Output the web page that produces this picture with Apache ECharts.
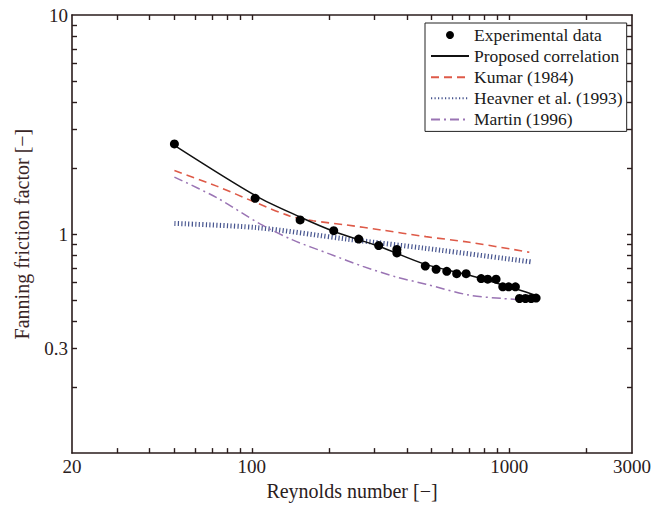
<!DOCTYPE html>
<html>
<head>
<meta charset="utf-8">
<script src="https://cdn.jsdelivr.net/npm/echarts@6/dist/echarts.min.js"></script>
<style>
html,body{margin:0;padding:0;background:#fff;}
#chart{width:654px;height:506px;}
</style>
</head>
<body>
<div id="chart"></div>
<script>
// ---- data ----
var expRe = [50, 103, 154, 208, 260, 311, 366, 366, 472, 520, 572, 625, 680, 778, 825, 889, 944, 995, 1057, 1096, 1156, 1217, 1272];
var expF  = [2.58, 1.455, 1.16, 1.036, 0.949, 0.886, 0.85, 0.82, 0.714, 0.69, 0.676, 0.659, 0.659, 0.626, 0.622, 0.622, 0.574, 0.574, 0.574, 0.508, 0.508, 0.508, 0.51];

var corrRe = [50, 104, 153, 210, 313, 472, 701, 1096, 1287];
var corrF  = [2.54, 1.49, 1.20, 1.025, 0.877, 0.727, 0.648, 0.555, 0.522];

var kumarRe = [50, 73, 104, 140, 173, 233, 313, 475, 701, 1197];
var kumarF  = [1.95, 1.655, 1.39, 1.21, 1.15, 1.10, 1.047, 0.973, 0.917, 0.826];

var heavRe = [50, 104, 233, 475, 1230];
var heavF  = [1.118, 1.07, 0.949, 0.86, 0.745];

var martinRe = [50, 73, 108, 144, 200, 270, 364, 475, 701, 944, 1253];
var martinF  = [1.82, 1.466, 1.11, 0.94, 0.812, 0.712, 0.637, 0.590, 0.526, 0.508, 0.496];

var xTicks = [30, 40, 50, 60, 70, 80, 90, 100, 200, 300, 400, 500, 600, 700, 800, 900, 1000, 2000];
var xLabels = [20, 100, 1000, 3000];
var yTicks = [0.2, 0.3, 0.4, 0.5, 0.6, 0.7, 0.8, 0.9, 1, 2, 3, 4, 5, 6, 7, 8, 9];
var yLabels = [0.3, 1, 10];

var seriesNames = ['Experimental data', 'Proposed correlation', 'Kumar (1984)', 'Heavner et al. (1993)', 'Martin (1996)'];

function pairs(a, b) { return a.map(function (v, i) { return [v, b[i]]; }); }
function fmt(v) { return String(+(+v).toPrecision(6)); }

var axisColor = '#2a1c1c';
var font = 'Liberation Serif';

function xAxisDef(pos, showLabel) {
  return {
    type: 'log', logBase: 10, min: 20, max: 3000, position: pos,
    name: showLabel ? 'Reynolds number [\u2212]' : '',
    nameLocation: 'middle', nameGap: 26,
    nameTextStyle: { fontFamily: font, fontSize: 20, color: '#2a2020' },
    axisLine: { show: true, onZero: false, lineStyle: { color: axisColor, width: 1.6 } },
    axisTick: { show: true, inside: true, length: 5, customValues: xTicks, lineStyle: { color: axisColor, width: 1.4 } },
    axisLabel: { show: showLabel, customValues: xLabels, formatter: fmt, margin: 4, fontFamily: font, fontSize: 19, color: '#2a2020' },
    splitLine: { show: false }, minorTick: { show: false }
  };
}
function yAxisDef(pos, showLabel) {
  return {
    type: 'log', logBase: 10, min: 0.1, max: 10, position: pos,
    name: showLabel ? 'Fanning friction factor [\u2212]' : '',
    nameLocation: 'middle', nameGap: 40, nameRotate: 90,
    nameTextStyle: { fontFamily: font, fontSize: 20, color: '#3a2626' },
    axisLine: { show: true, onZero: false, lineStyle: { color: axisColor, width: 1.6 } },
    axisTick: { show: true, inside: true, length: 5, customValues: yTicks, lineStyle: { color: axisColor, width: 1.4 } },
    axisLabel: { show: showLabel, customValues: yLabels, formatter: fmt, margin: 4, fontFamily: font, fontSize: 19, color: '#2a2020' },
    splitLine: { show: false }, minorTick: { show: false }
  };
}

var hideSym = { opacity: 0, borderWidth: 0 };

var chart = echarts.init(document.getElementById('chart'), null, { renderer: 'svg' });
chart.setOption({
  animation: false,
  backgroundColor: '#fff',
  grid: { left: 72, top: 15, right: 21, bottom: 49, containLabel: false },
  xAxis: [xAxisDef('bottom', true), xAxisDef('top', false)],
  yAxis: [yAxisDef('left', true), yAxisDef('right', false)],
  legend: {
    orient: 'vertical', left: 425, top: 23,
    data: [
      { name: seriesNames[0] },
      { name: seriesNames[1], itemStyle: hideSym },
      { name: seriesNames[2], itemStyle: hideSym },
      { name: seriesNames[3], itemStyle: hideSym },
      { name: seriesNames[4], itemStyle: hideSym }
    ],
    itemWidth: 38, itemHeight: 8, itemGap: 3.1,
    padding: [3, 4, 3, 5],
    borderColor: '#222', borderWidth: 1, backgroundColor: '#fff',
    textStyle: { fontFamily: font, fontSize: 17.5, color: '#1a1a1a' }
  },
  series: [
    { name: seriesNames[0], type: 'scatter', data: pairs(expRe, expF), symbol: 'circle', symbolSize: 9,
      itemStyle: { color: '#000', opacity: 1 }, z: 5 },
    { name: seriesNames[1], type: 'line', data: pairs(corrRe, corrF), symbol: 'none', smooth: 0.3,
      lineStyle: { color: '#111', width: 1.5, type: 'solid' }, itemStyle: { color: '#111' }, z: 4 },
    { name: seriesNames[2], type: 'line', data: pairs(kumarRe, kumarF), symbol: 'none', smooth: 0.3,
      lineStyle: { color: '#de5a48', width: 1.6, type: [8, 5] }, itemStyle: { color: '#de5a48' } },
    { name: seriesNames[3], type: 'line', data: pairs(heavRe, heavF), symbol: 'none', smooth: 0.3,
      lineStyle: { color: '#47558f', width: 5, type: [1.2, 2.3] }, itemStyle: { color: '#47558f' } },
    { name: seriesNames[4], type: 'line', data: pairs(martinRe, martinF), symbol: 'none', smooth: 0.3,
      lineStyle: { color: '#9a74b4', width: 1.5, type: [9, 4, 2, 4] }, itemStyle: { color: '#9a74b4' } }
  ]
});
</script>
</body>
</html>
